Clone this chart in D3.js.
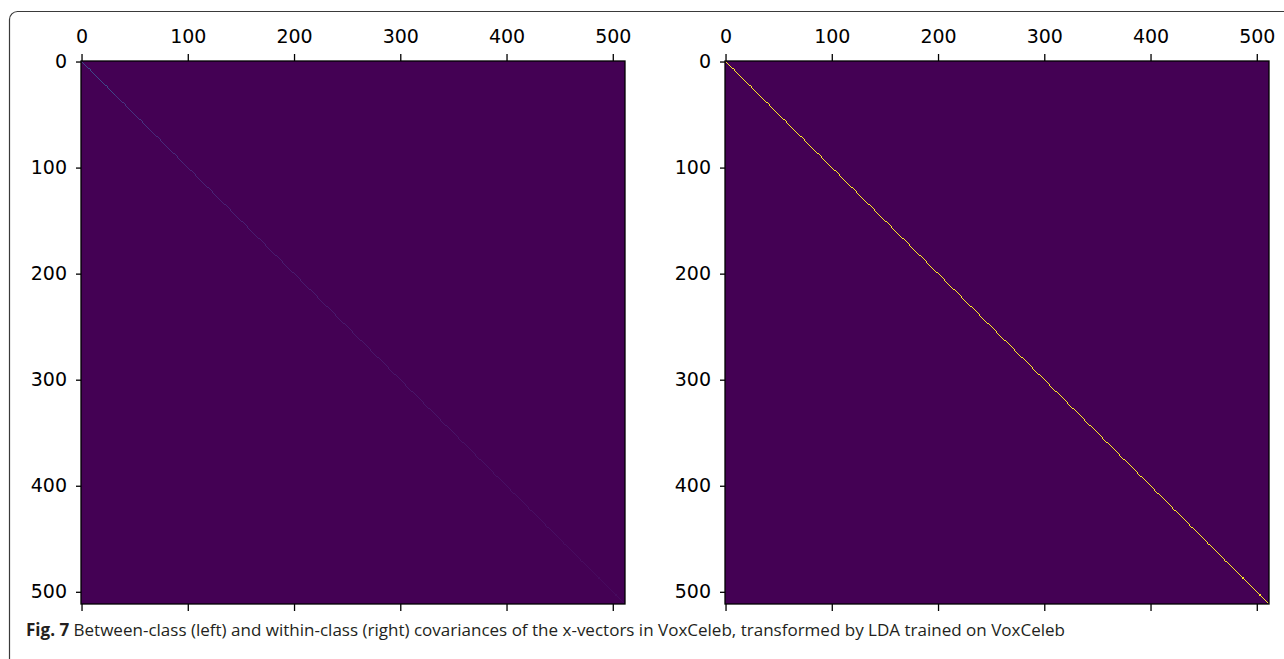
<!DOCTYPE html>
<html>
<head>
<meta charset="utf-8">
<script src="https://cdn.jsdelivr.net/npm/d3@7"></script>
<style>
  html, body { margin: 0; padding: 0; background: #fff; }
  svg { display: block; }
</style>
</head>
<body>
<svg id="fig" width="1284" height="659"></svg>
<script>
  // matrix size and tick labels
  var N = 512;
  var tickValues = [0, 100, 200, 300, 400, 500];

  // diagonal values, one per block of 32 rows (off-diagonal cells are 0)
  var blockSize = 32;
  var leftDiag = [0.22, 0.15, 0.12, 0.10, 0.09, 0.08, 0.075, 0.07, 0.065, 0.06, 0.055, 0.05, 0.045, 0.04, 0.035, 0.03];
  var rightDiag = [1, 1, 1, 1, 1, 1, 1, 1, 1, 1, 1, 1, 1, 1, 1, 1];

  var caption = ' Between-class (left) and within-class (right) covariances of the x-vectors in VoxCeleb, transformed by LDA trained on VoxCeleb';

  var svg = d3.select('#fig');

  // outer frame of the figure box
  svg.append('rect')
    .attr('x', 9.5).attr('y', 11.5)
    .attr('width', 1400).attr('height', 900)
    .attr('rx', 8)
    .attr('fill', 'none')
    .attr('stroke', '#3a3a3a')
    .attr('stroke-width', 1.2);

  var color = d3.scaleSequential(d3.interpolateViridis).domain([0, 1]);

  function expand(blocks) {
    var out = [];
    blocks.forEach(function(v, b) {
      for (var k = 0; k < blockSize; k++) out.push({ i: b * blockSize + k, v: v });
    });
    return out;
  }

  function panel(left, diag) {
    var x = d3.scaleLinear().domain([-0.5, N - 0.5]).range([left, left + 544]);
    var y = d3.scaleLinear().domain([-0.5, N - 0.5]).range([61, 604]);
    var g = svg.append('g');

    g.append('rect')
      .attr('x', x(-0.5)).attr('y', y(-0.5))
      .attr('width', x(N - 0.5) - x(-0.5))
      .attr('height', y(N - 0.5) - y(-0.5))
      .attr('fill', color(0));

    g.selectAll('rect.cell')
      .data(expand(diag))
      .enter().append('rect')
      .attr('class', 'cell')
      .attr('x', function(d) { return x(d.i - 0.5); })
      .attr('y', function(d) { return y(d.i - 0.5); })
      .attr('width', function(d) { return x(d.i + 0.5) - x(d.i - 0.5); })
      .attr('height', function(d) { return y(d.i + 0.5) - y(d.i - 0.5); })
      .attr('shape-rendering', 'crispEdges')
      .attr('fill', function(d) { return color(d.v); });

    var top = g.append('g').attr('transform', 'translate(0,' + y(-0.5) + ')')
      .call(d3.axisTop(x).tickValues(tickValues).tickSize(7).tickPadding(11));
    var bottom = g.append('g').attr('transform', 'translate(0,' + y(N - 0.5) + ')')
      .call(d3.axisBottom(x).tickValues(tickValues).tickSize(7).tickFormat(''));
    var leftAx = g.append('g').attr('transform', 'translate(' + x(-0.5) + ',0)')
      .call(d3.axisLeft(y).tickValues(tickValues).tickSize(5).tickPadding(9));

    [top, bottom, leftAx].forEach(function(a) {
      a.select('.domain').remove();
      a.selectAll('line').attr('stroke', '#000').attr('stroke-width', 1.3);
      a.selectAll('text')
        .attr('fill', '#000')
        .style('font-family', '"DejaVu Sans", sans-serif')
        .style('font-size', '19px');
    });

    // spines
    g.append('rect')
      .attr('x', x(-0.5)).attr('y', y(-0.5))
      .attr('width', x(N - 0.5) - x(-0.5))
      .attr('height', y(N - 0.5) - y(-0.5))
      .attr('fill', 'none')
      .attr('stroke', '#000')
      .attr('stroke-width', 1.3);
  }

  panel(81, leftDiag);
  panel(725, rightDiag);

  // caption
  var cap = svg.append('text')
    .attr('x', 26).attr('y', 636)
    .attr('fill', '#231f20')
    .style('font-family', '"Open Sans", sans-serif')
    .style('font-size', '15px');
  cap.append('tspan').attr('font-weight', 'bold').text('Fig. 7');
  cap.append('tspan').text(caption);

  // fit caption to the width it has in the figure
  var w = cap.node().getComputedTextLength();
  cap.style('font-size', (15 * 1040 / w).toFixed(2) + 'px');
</script>
</body>
</html>
